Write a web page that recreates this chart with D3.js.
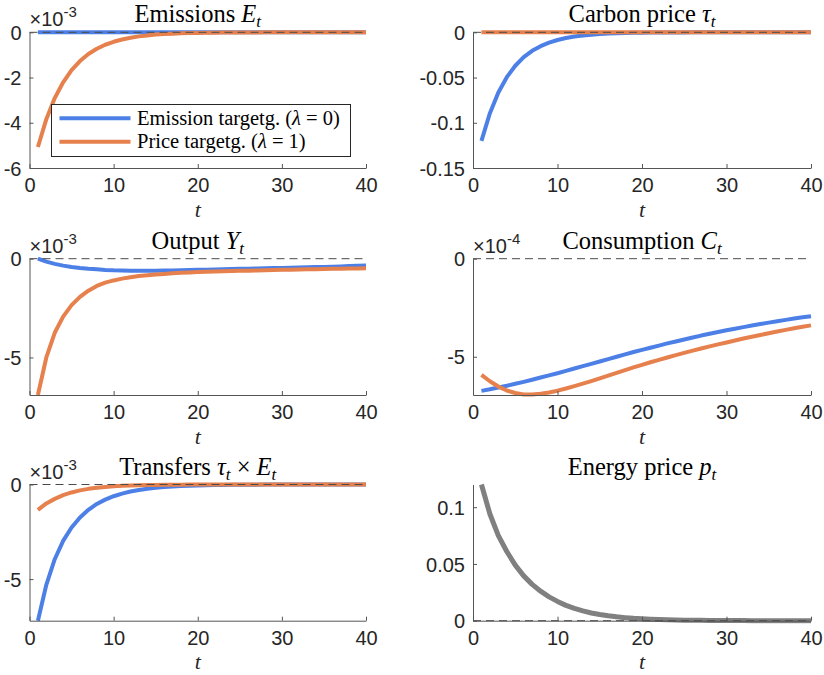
<!DOCTYPE html>
<html><head><meta charset="utf-8">
<script src="https://cdn.jsdelivr.net/npm/d3@7"></script>
<style>body{margin:0;background:#fff}svg{display:block}</style>
</head><body><svg id="c" width="824" height="675"></svg>
<script>
// ---- data (t = 1..40) ----
const periods = d3.range(1, 41);
const seriesNames = ["Emission targetg. (λ = 0)", "Price targetg. (λ = 1)"];

// Emissions E_t (x1e-3)
const emisE_target = [0,0,0,0,0,0,0,0,0,0,0,0,0,0,0,0,0,0,0,0,0,0,0,0,0,0,0,0,0,0,0,0,0,0,0,0,0,0,0,0];
const emisE_price  = [-5.07,-3.84,-2.91,-2.21,-1.67,-1.27,-0.96,-0.73,-0.55,-0.42,-0.32,-0.24,-0.18,-0.14,-0.10,-0.08,-0.06,-0.045,-0.034,-0.026,-0.02,-0.015,-0.011,-0.009,-0.007,-0.005,-0.004,-0.003,-0.002,-0.002,-0.001,-0.001,-0.001,0,0,0,0,0,0,0];
// Carbon price tau_t
const tau_target = [-0.120,-0.0894,-0.0666,-0.0496,-0.0370,-0.0275,-0.0205,-0.0153,-0.0114,-0.0085,-0.0063,-0.0047,-0.0035,-0.0026,-0.0019,-0.0014,-0.0011,-0.0008,-0.0006,-0.00045,-0.00033,-0.00025,-0.00018,-0.00014,-0.0001,-0.00008,-0.00006,-0.00004,-0.00003,-0.00002,-0.00002,-0.00001,-0.00001,0,0,0,0,0,0,0];
const tau_price  = [0,0,0,0,0,0,0,0,0,0,0,0,0,0,0,0,0,0,0,0,0,0,0,0,0,0,0,0,0,0,0,0,0,0,0,0,0,0,0,0];
// Output Y_t (x1e-3)
const outY_target = [0,-0.15,-0.26,-0.35,-0.42,-0.47,-0.51,-0.54,-0.57,-0.59,-0.60,-0.61,-0.61,-0.61,-0.605,-0.60,-0.595,-0.585,-0.575,-0.565,-0.555,-0.545,-0.535,-0.525,-0.515,-0.505,-0.495,-0.485,-0.475,-0.465,-0.455,-0.445,-0.435,-0.425,-0.415,-0.405,-0.39,-0.375,-0.36,-0.345];
const outY_price  = [-6.9,-5.0,-3.75,-2.93,-2.35,-1.93,-1.62,-1.38,-1.21,-1.10,-1.01,-0.94,-0.88,-0.84,-0.80,-0.77,-0.74,-0.715,-0.695,-0.675,-0.66,-0.645,-0.635,-0.625,-0.615,-0.605,-0.595,-0.585,-0.575,-0.565,-0.555,-0.545,-0.537,-0.53,-0.522,-0.515,-0.507,-0.5,-0.49,-0.48];
// Consumption C_t (x1e-4)
const consC_target = [-6.74,-6.66,-6.57,-6.48,-6.38,-6.28,-6.17,-6.06,-5.95,-5.84,-5.72,-5.60,-5.48,-5.36,-5.24,-5.12,-5.00,-4.88,-4.76,-4.65,-4.54,-4.43,-4.32,-4.22,-4.12,-4.02,-3.92,-3.83,-3.74,-3.65,-3.57,-3.49,-3.41,-3.33,-3.26,-3.19,-3.12,-3.05,-2.99,-2.93];
const consC_price  = [-5.92,-6.25,-6.52,-6.72,-6.85,-6.92,-6.93,-6.89,-6.82,-6.73,-6.62,-6.50,-6.37,-6.24,-6.10,-5.96,-5.82,-5.68,-5.54,-5.41,-5.28,-5.16,-5.04,-4.92,-4.80,-4.69,-4.58,-4.47,-4.37,-4.27,-4.17,-4.07,-3.98,-3.89,-3.80,-3.71,-3.63,-3.55,-3.47,-3.40];
// Transfers tau_t x E_t (x1e-3)
const trans_target = [-7.2,-5.3,-3.95,-2.98,-2.27,-1.74,-1.34,-1.03,-0.80,-0.62,-0.48,-0.37,-0.29,-0.22,-0.17,-0.13,-0.10,-0.08,-0.06,-0.047,-0.036,-0.028,-0.021,-0.016,-0.012,-0.009,-0.007,-0.005,-0.004,-0.003,-0.002,-0.002,-0.001,-0.001,-0.001,0,0,0,0,0];
const trans_price  = [-1.34,-1.0,-0.76,-0.56,-0.42,-0.31,-0.23,-0.17,-0.13,-0.095,-0.07,-0.05,-0.038,-0.028,-0.02,-0.015,-0.011,-0.008,-0.006,-0.004,-0.003,-0.002,-0.002,-0.001,-0.001,0,0,0,0,0,0,0,0,0,0,0,0,0,0,0];
// Energy price p_t
const energyP = [0.12,0.094,0.075,0.061,0.049,0.0395,0.032,0.026,0.021,0.017,0.0135,0.0108,0.0086,0.0068,0.0054,0.0043,0.0034,0.0027,0.0021,0.0017,0.0013,0.001,0.0008,0.0006,0.0005,0.0004,0.0003,0.0002,0.0002,0.0001,0.0001,0.0001,0,0,0,0,0,0,0,0];

const xTicks = [0, 10, 20, 30, 40];

// ---- styling/layout ----
const BLUE = "#4d80e6", ORANGE = "#e6804d", GRAY = "#808080";
const AX = "#555555", TXT = "#262626";
const cols = [[29.5, 366], [473, 811]];
const rows = [[32.3, 168], [258.7, 395], [484.5, 620.7]];
const SERIF = "'Liberation Serif', 'Times New Roman', serif";
const SANS = "'Liberation Sans', Arial, Helvetica, sans-serif";

const panels = [
  {c:0, r:0, title:[["Emissions ",0],["E",1],["t",2]], dom:[-6,0], ticks:[0,-2,-4,-6], exp:"-3",
   series:[[emisE_target,BLUE,4],[emisE_price,ORANGE,4]], legend:true},
  {c:1, r:0, title:[["Carbon price ",0],["τ",1],["t",2]], dom:[-0.15,0], ticks:[0,-0.05,-0.1,-0.15], exp:null,
   series:[[tau_target,BLUE,4],[tau_price,ORANGE,4]]},
  {c:0, r:1, title:[["Output ",0],["Y",1],["t",2]], dom:[-6.9,0], ticks:[0,-5], exp:"-3",
   series:[[outY_target,BLUE,4],[outY_price,ORANGE,4]]},
  {c:1, r:1, title:[["Consumption ",0],["C",1],["t",2]], dom:[-6.95,0], ticks:[0,-5], exp:"-4",
   series:[[consC_target,BLUE,4],[consC_price,ORANGE,4]]},
  {c:0, r:2, title:[["Transfers ",0],["τ",1],["t",2],[" × ",3],["E",1],["t",2]], dom:[-7.2,0], ticks:[0,-5], exp:"-3",
   series:[[trans_target,BLUE,4],[trans_price,ORANGE,4]]},
  {c:1, r:2, title:[["Energy price ",0],["p",1],["t",2]], dom:[0,0.12], ticks:[0,0.05,0.1], exp:null,
   series:[[energyP,GRAY,5]]}
];

const svg = d3.select("#c");

panels.forEach((p, i) => {
  const [x0, x1] = cols[p.c];
  const [y0, y1] = rows[p.r];
  const x = d3.scaleLinear().domain([0, 40]).range([x0, x1]);
  const y = d3.scaleLinear().domain(p.dom).range([y1, y0]);
  const g = svg.append("g");

  const clipId = "clip" + i;
  svg.append("clipPath").attr("id", clipId).append("rect")
    .attr("x", x0 - 3).attr("y", y0 - 3).attr("width", x1 - x0 + 6).attr("height", y1 - y0 + 6);

  const line = d3.line().x((d, k) => x(periods[k])).y(d => y(d));
  p.series.forEach(([vals, col, w]) => {
    g.append("path").datum(vals).attr("d", line)
      .attr("fill", "none").attr("stroke", col).attr("stroke-width", w)
      .attr("stroke-linejoin", "round")
      .attr("clip-path", `url(#${clipId})`);
  });

  g.append("line").attr("x1", x(0)).attr("x2", x(40)).attr("y1", y(0)).attr("y2", y(0))
    .attr("stroke", "#4a4a4a").attr("stroke-width", 1).attr("stroke-dasharray", "8,5");

  const yAxis = d3.axisLeft(y).tickValues(p.ticks).tickFormat(d => String(d)).tickSizeInner(-4).tickSizeOuter(0).tickPadding(8);
  const xAxis = d3.axisBottom(x).tickValues(xTicks).tickSizeInner(-4).tickSizeOuter(0).tickPadding(7);
  const ya = g.append("g").attr("transform", `translate(${x0},0)`).call(yAxis);
  const xa = g.append("g").attr("transform", `translate(0,${y1})`).call(xAxis);
  [ya, xa].forEach(a => {
    a.select(".domain").attr("stroke", AX).attr("stroke-width", 1);
    a.selectAll(".tick line").attr("stroke", AX);
    a.selectAll(".tick text").attr("fill", TXT).attr("font-family", SANS).attr("font-size", 20);
  });
  xa.selectAll(".tick text").attr("dy", "0.85em");
  ya.selectAll(".tick text").attr("dy", "0.36em");

  g.append("text").attr("x", (x0 + x1) / 2).attr("y", y1 + 48.5).attr("text-anchor", "middle")
    .attr("font-family", SERIF).attr("font-style", "italic").attr("font-size", 22).attr("fill", TXT).text("t");

  const tt = g.append("text").attr("x", (x0 + x1) / 2).attr("y", y0 - 10).attr("text-anchor", "middle")
    .attr("font-family", SERIF).attr("font-size", 24.5).attr("fill", "#000");
  let sub = false;
  p.title.forEach(([s, kind]) => {
    const ts = tt.append("tspan").text(s);
    if (kind === 1) ts.attr("font-style", "italic");
    if (kind === 2) { ts.attr("font-style", "italic").attr("font-size", 17).attr("dy", 5); sub = true; }
    else if (sub) { ts.attr("dy", -5); sub = false; }
  });

  if (p.exp) {
    const et = g.append("text").attr("x", x0).attr("y", y0 - 6)
      .attr("font-family", SANS).attr("font-size", 20).attr("fill", TXT);
    et.append("tspan").text("×10");
    et.append("tspan").attr("dy", -9).attr("font-size", 15).text(p.exp);
  }

  if (p.legend) {
    const lg = g.append("g");
    lg.append("rect").attr("x", 51.5).attr("y", 104.5).attr("width", 299).attr("height", 52)
      .attr("fill", "#fff").attr("stroke", TXT).attr("stroke-width", 1);
    [BLUE, ORANGE].forEach((col, k) => {
      const ly = 118.3 + k * 23.4;
      lg.append("line").attr("x1", 59.5).attr("x2", 130.5).attr("y1", ly).attr("y2", ly)
        .attr("stroke", col).attr("stroke-width", 4);
      const lt = lg.append("text").attr("x", 137).attr("y", ly + 6.5)
        .attr("font-family", SERIF).attr("font-size", 20.5).attr("fill", "#000");
      const parts = seriesNames[k].split("λ");
      lt.append("tspan").text(parts[0]);
      lt.append("tspan").attr("font-style", "italic").text("λ");
      lt.append("tspan").text(parts[1]);
    });
  }
});
</script></body></html>
